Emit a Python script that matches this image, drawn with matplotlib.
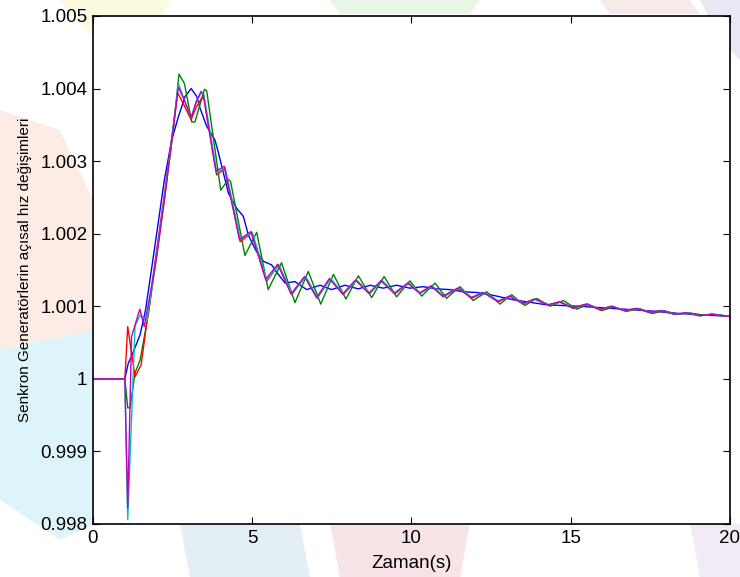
import matplotlib
matplotlib.use("Agg")
import matplotlib.pyplot as plt
from matplotlib.patches import Polygon

# ---------------- data ----------------
t_blue = [0, 1.0, 1.11, 1.21, 1.48, 1.65, 1.9, 2.24, 2.47, 2.68, 2.89, 3.08, 3.26, 3.36,
          3.57, 3.83, 3.93, 4.25, 4.51, 4.72, 4.88, 5.1, 5.35, 5.61, 5.8, 6.03, 6.34, 6.71,
          7.13, 7.49, 7.91, 8.33, 8.7, 9.11, 9.53, 9.95, 10.37, 10.79, 11.2, 11.63, 12.05,
          12.47, 13.19, 14.25, 15.29, 16.33, 17.38, 18.43, 20]
v_blue = [1.0, 1.0, 1.00022, 1.00031, 1.00061, 1.00095, 1.0017, 1.00274, 1.00329, 1.00361,
          1.00389, 1.0040, 1.00389, 1.00373, 1.00348, 1.00329, 1.00313, 1.00256, 1.00235,
          1.00224, 1.00198, 1.00178, 1.00162, 1.00157, 1.00145, 1.00132, 1.00134, 1.00123,
          1.00129, 1.00123, 1.00129, 1.00124, 1.00129, 1.00125, 1.00129, 1.00125, 1.00127,
          1.00124, 1.00123, 1.0012, 1.00119, 1.00116, 1.00109, 1.00102, 1.0010, 1.00097,
          1.00094, 1.0009, 1.00086]

t_green = [0, 1.0, 1.09, 1.16, 1.32, 1.48, 1.75, 2.0, 2.26, 2.5, 2.70, 2.87, 3.10, 3.2,
           3.50, 3.57, 4.01, 4.25, 4.32, 4.77, 5.14, 5.5, 5.92, 6.34, 6.76, 7.15, 7.55,
           7.94, 8.33, 8.75, 9.14, 9.53, 9.95, 10.32, 10.74, 11.1, 11.52, 11.94, 12.36,
           12.78, 13.14, 13.56, 13.93, 14.35, 14.77, 15.19, 15.55, 15.97, 16.34, 16.76,
           17.15, 17.57, 17.93, 18.35, 18.72, 19.14, 19.52, 20]
v_green = [1.0, 1.0, 0.9996, 0.9996, 1.00008, 1.00026, 1.00092, 1.00172, 1.00255, 1.00335,
           1.0042, 1.00407, 1.00354, 1.00354, 1.00399, 1.00397, 1.0026, 1.00275, 1.00272,
           1.00170, 1.00202, 1.00123, 1.0016, 1.00105, 1.00148, 1.00103, 1.00144, 1.0011,
           1.00142, 1.00112, 1.00141, 1.00113, 1.00135, 1.00114, 1.00132, 1.00111,
           1.00127, 1.00108, 1.0012, 1.00103, 1.00116, 1.00101, 1.00111, 1.0010, 1.00108,
           1.00096, 1.00103, 1.00094, 1.00099, 1.00093, 1.00097, 1.0009, 1.00094,
           1.00089, 1.00091, 1.00088, 1.00089, 1.00086]

t_red = [0, 1.0, 1.09, 1.32, 1.51, 1.75, 2.0, 2.26, 2.45, 2.66, 2.85, 3.08, 3.25, 3.43,
         3.49, 3.88, 4.14, 4.62, 4.98, 5.45, 5.82, 6.24, 6.66, 7.04, 7.44, 7.86, 8.26,
         8.68, 9.06, 9.48, 9.90, 10.27, 10.63, 11.0, 11.47, 11.89, 12.27, 12.73, 13.09,
         13.51, 13.88, 14.3, 14.66, 15.08, 15.5, 15.92, 16.29, 16.7, 17.07, 17.49, 17.85,
         18.27, 18.64, 19.06, 19.43, 20]
v_red = [1.0, 1.0, 1.00072, 1.00003, 1.00019, 1.00097, 1.00178, 1.0026, 1.00325, 1.00394,
         1.00378, 1.00357, 1.00375, 1.00388, 1.00385, 1.00281, 1.0029, 1.00189, 1.00201,
         1.00134, 1.00157, 1.00116, 1.00141, 1.00111, 1.00138, 1.00116, 1.00136, 1.00117,
         1.00136, 1.00117, 1.00132, 1.00118, 1.00128, 1.00113, 1.00125, 1.00111, 1.00119,
         1.00106, 1.00114, 1.00103, 1.0011, 1.00102, 1.00106, 1.00097, 1.00103, 1.00095,
         1.001, 1.00094, 1.00097, 1.00091, 1.00094, 1.00089, 1.00091, 1.00087, 1.00089,
         1.00086]

t_cyan = [0, 1.0, 1.09, 1.32, 1.48, 1.69, 2.0, 2.26, 2.45, 2.68, 2.86, 3.08, 3.25, 3.41,
          3.48, 3.89, 4.15, 4.63, 5.0, 5.46, 5.84, 6.25, 6.68, 7.05, 7.46, 7.87, 8.28,
          8.69, 9.08, 9.49, 9.92, 10.28, 10.65, 11.01, 11.49, 11.9, 12.29, 12.74, 13.11,
          13.52, 13.9, 14.31, 14.68, 15.09, 15.52, 15.93, 16.31, 16.71, 17.09, 17.5,
          17.87, 18.28, 18.66, 19.07, 19.45, 20]
v_cyan = [1.0, 1.0, 0.99806, 1.00073, 1.00088, 1.00079, 1.00172, 1.00255, 1.00322, 1.00407,
          1.00385, 1.0036, 1.00382, 1.00395, 1.00392, 1.00284, 1.00291, 1.00192, 1.00202,
          1.00136, 1.00157, 1.00117, 1.00141, 1.00112, 1.00138, 1.00117, 1.00136, 1.00118,
          1.00135, 1.00118, 1.00132, 1.00118, 1.00128, 1.00114, 1.00125, 1.00112, 1.00119,
          1.00107, 1.00114, 1.00104, 1.0011, 1.00102, 1.00106, 1.00098, 1.00103, 1.00096,
          1.001, 1.00094, 1.00097, 1.00092, 1.00094, 1.00089, 1.00091, 1.00087, 1.00089,
          1.00086]

t_mag = [0, 1.0, 1.09, 1.21, 1.47, 1.61, 1.8, 2.0, 2.26, 2.45, 2.68, 2.86, 3.08, 3.25,
         3.39, 3.46, 3.86, 4.12, 4.6, 4.96, 5.42, 5.8, 6.22, 6.64, 7.02, 7.42, 7.84, 8.24,
         8.66, 9.04, 9.46, 9.88, 10.25, 10.61, 10.98, 11.45, 11.87, 12.25, 12.71, 13.07,
         13.49, 13.86, 14.28, 14.64, 15.06, 15.48, 15.9, 16.27, 16.68, 17.05, 17.47,
         17.83, 18.25, 18.62, 19.04, 19.41, 20]
v_mag = [1.0, 1.0, 0.99822, 1.00058, 1.00096, 1.00072, 1.00118, 1.00168, 1.00252, 1.0032,
         1.00402, 1.00385, 1.0036, 1.00383, 1.00396, 1.00392, 1.00286, 1.00293, 1.00192,
         1.00203, 1.00137, 1.00158, 1.00117, 1.00141, 1.00112, 1.00138, 1.00117, 1.00136,
         1.00118, 1.00135, 1.00118, 1.00132, 1.00118, 1.00128, 1.00114, 1.00125, 1.00112,
         1.00119, 1.00107, 1.00114, 1.00104, 1.0011, 1.00102, 1.00106, 1.00098, 1.00103,
         1.00096, 1.001, 1.00094, 1.00097, 1.00092, 1.00094, 1.00089, 1.00091, 1.00087,
         1.00089, 1.00086]

x_ticks = [0, 5, 10, 15, 20]
x_tick_labels = ["0", "5", "10", "15", "20"]
y_ticks = [0.998, 0.999, 1.0, 1.001, 1.002, 1.003, 1.004, 1.005]
y_tick_labels = ["0.998", "0.999", "1", "1.001", "1.002", "1.003", "1.004", "1.005"]
x_label = "Zaman(s)"
y_label = "Senkron Generatörlerin açısal hız değişimleri"

# ---------------- figure ----------------
plt.rcParams["font.family"] = ["Liberation Sans", "DejaVu Sans"]
W, H = 740, 577
fig = plt.figure(figsize=(W / 100, H / 100), dpi=100)
fig.patch.set_facecolor("white")

# faint watermark shapes in the margins (figure pixel coords, y from top)
def wm(points, color, alpha):
    pts = [(x / W, 1 - y / H) for x, y in points]
    fig.patches.append(Polygon(pts, closed=True, transform=fig.transFigure,
                               facecolor=color, edgecolor="none", alpha=alpha, zorder=-5))

wm([(60, 0), (170, 0), (150, 40), (95, 40)], "#f7e98a", 0.25)
wm([(330, 0), (480, 0), (470, 14), (340, 14)], "#9fdc8c", 0.22)
wm([(600, 0), (690, 0), (700, 14), (610, 14)], "#e8a0a0", 0.22)
wm([(700, 0), (740, 0), (740, 60), (720, 40)], "#a8a8d8", 0.25)
wm([(0, 110), (60, 130), (93, 200), (93, 330), (0, 350)], "#f5b79a", 0.25)
wm([(0, 350), (93, 330), (93, 524), (60, 540), (0, 500)], "#8fdff0", 0.3)
wm([(180, 524), (300, 524), (310, 577), (190, 577)], "#9cc8dc", 0.28)
wm([(330, 524), (470, 524), (460, 577), (340, 577)], "#e8a0a8", 0.28)
wm([(690, 524), (740, 524), (740, 577), (700, 577)], "#c8a8d8", 0.22)

ax = fig.add_axes([93 / W, 1 - 524 / H, 637 / W, 508 / H])
ax.set_facecolor("white")

lw = 1.0
ax.plot(t_blue, v_blue, color=(0, 0, 1), lw=lw)
ax.plot(t_green, v_green, color=(0, 0.5, 0), lw=lw)
ax.plot(t_red, v_red, color=(1, 0, 0), lw=lw)
ax.plot(t_cyan, v_cyan, color=(0, 0.75, 0.75), lw=lw)
ax.plot(t_mag, v_mag, color=(0.75, 0, 0.75), lw=lw)

ax.set_xlim(0, 20)
ax.set_ylim(0.998, 1.005)
ax.set_xticks(x_ticks)
ax.set_xticklabels(x_tick_labels)
ax.set_yticks(y_ticks)
ax.set_yticklabels(y_tick_labels)
ax.tick_params(direction="in", length=5, width=0.8, top=True, right=True,
               labelsize=13.5, pad=4, colors="black")
for s in ax.spines.values():
    s.set_linewidth(1.2)
    s.set_color("black")

ax.set_xlabel(x_label, fontsize=13.5, labelpad=6)
ax.set_ylabel(y_label, fontsize=11, labelpad=6)

fig.savefig("out.png", dpi=100)
